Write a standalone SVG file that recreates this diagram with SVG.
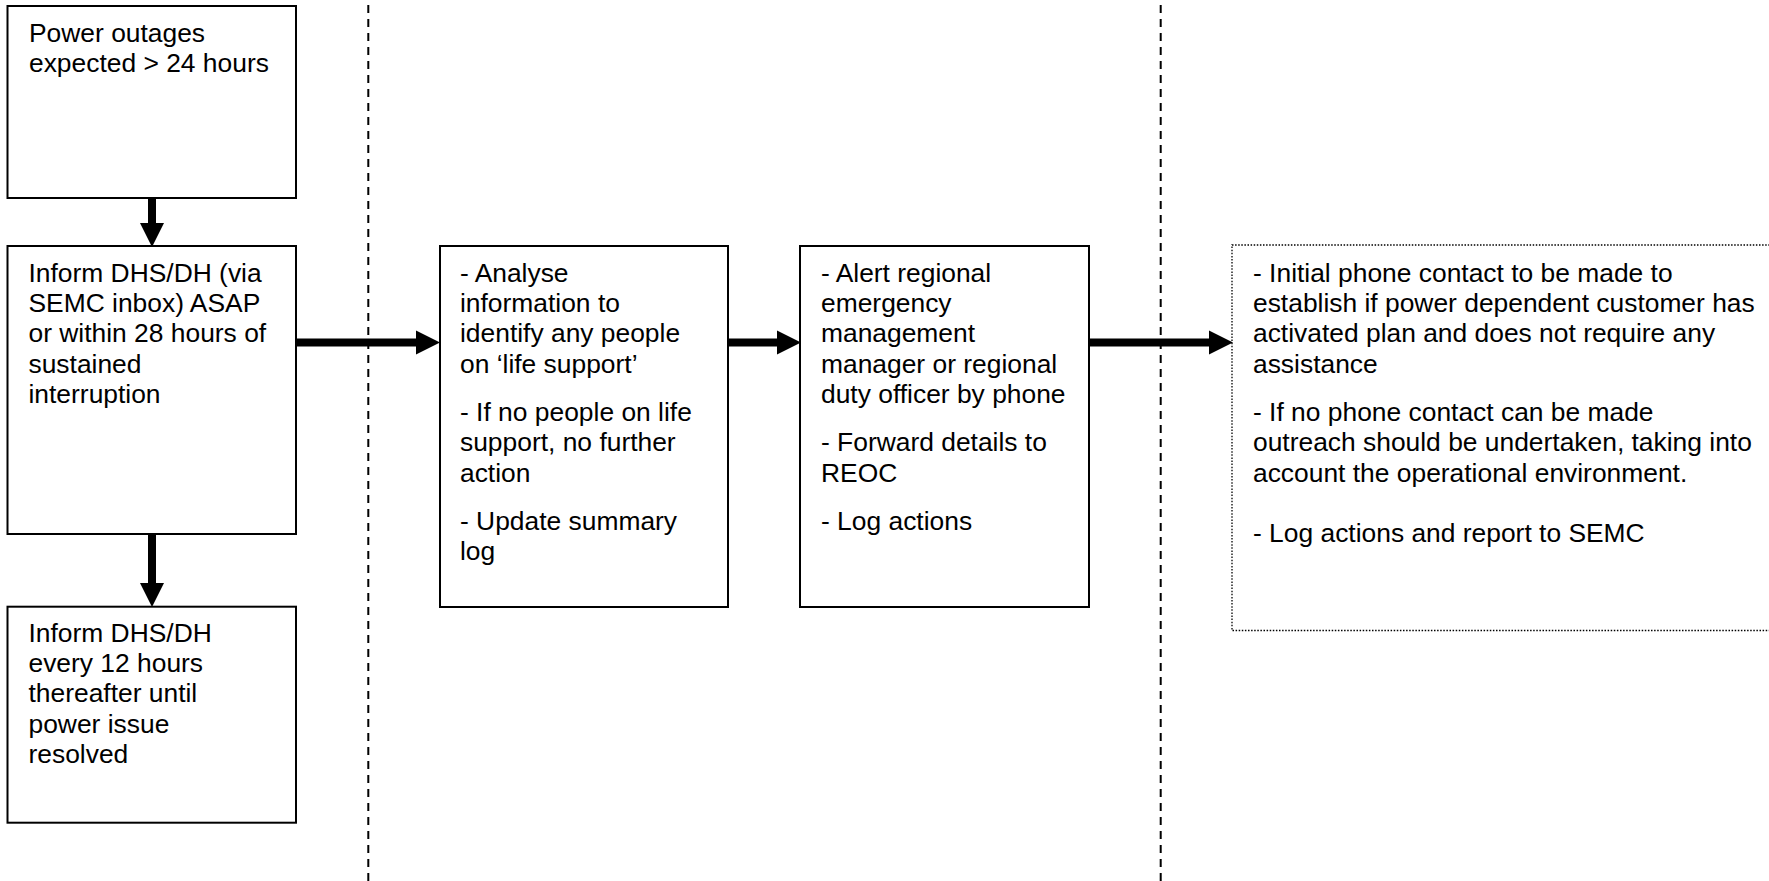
<svg xmlns="http://www.w3.org/2000/svg" width="1769" height="881" viewBox="0 0 1769 881">
<style>
.box{fill:#fff;stroke:#000;stroke-width:2}
.dot{fill:#fff;stroke:#000;stroke-width:1.3;stroke-dasharray:1.5 1.6}
.t{font-family:"Liberation Sans",Arial,sans-serif;font-size:26.4px;fill:#000}
.sep{stroke:#000;stroke-width:2;stroke-dasharray:8 6}
.arr{stroke:#000;stroke-width:8;fill:none}
</style>
<defs>
<marker id="ah" markerUnits="userSpaceOnUse" markerWidth="24" markerHeight="24" refX="0" refY="12" orient="auto" overflow="visible">
<path d="M0,0 L24,12 L0,24 Z" fill="#000"/>
</marker>
</defs>
<rect width="1769" height="881" fill="#fff"/>
<g id="separators">
<line class="sep" x1="368.3" y1="5" x2="368.3" y2="881"/>
<line class="sep" x1="1160.7" y1="5" x2="1160.7" y2="881"/>
</g>
<g id="n1">
<rect class="box" x="7.5" y="6" width="288.5" height="192"/>
<text class="t"><tspan x="29" y="42">Power outages</tspan><tspan x="29" y="72.3">expected &gt; 24 hours</tspan></text>
</g>
<g id="n2">
<rect class="box" x="7.5" y="246" width="288.5" height="288"/>
<text class="t"><tspan x="28.5" y="281.7">Inform DHS/DH (via</tspan><tspan x="28.5" y="312">SEMC inbox) ASAP</tspan><tspan x="28.5" y="342.3">or within 28 hours of</tspan><tspan x="28.5" y="372.6">sustained</tspan><tspan x="28.5" y="402.9">interruption</tspan></text>
</g>
<g id="n6">
<rect class="box" x="7.5" y="606.7" width="288.5" height="216"/>
<text class="t"><tspan x="28.5" y="641.7">Inform DHS/DH</tspan><tspan x="28.5" y="672">every 12 hours</tspan><tspan x="28.5" y="702.3">thereafter until</tspan><tspan x="28.5" y="732.6">power issue</tspan><tspan x="28.5" y="762.9">resolved</tspan></text>
</g>
<g id="n3">
<rect class="box" x="440" y="246" width="288" height="361"/>
<text class="t"><tspan x="460" y="281.7">- Analyse</tspan><tspan x="460" y="312">information to</tspan><tspan x="460" y="342.3">identify any people</tspan><tspan x="460" y="372.6">on ‘life support’</tspan><tspan x="460" y="420.9">- If no people on life</tspan><tspan x="460" y="451.2">support, no further</tspan><tspan x="460" y="481.5">action</tspan><tspan x="460" y="529.8">- Update summary</tspan><tspan x="460" y="560.1">log</tspan></text>
</g>
<g id="n4">
<rect class="box" x="800" y="246" width="289" height="361"/>
<text class="t"><tspan x="821" y="281.7">- Alert regional</tspan><tspan x="821" y="312">emergency</tspan><tspan x="821" y="342.3">management</tspan><tspan x="821" y="372.6">manager or regional</tspan><tspan x="821" y="402.9">duty officer by phone</tspan><tspan x="821" y="451.2">- Forward details to</tspan><tspan x="821" y="481.5">REOC</tspan><tspan x="821" y="529.8">- Log actions</tspan></text>
</g>
<g id="n5">
<rect class="dot" x="1232" y="245" width="560" height="385.5"/>
<text class="t"><tspan x="1253" y="281.7">- Initial phone contact to be made to</tspan><tspan x="1253" y="312">establish if power dependent customer has</tspan><tspan x="1253" y="342.3">activated plan and does not require any</tspan><tspan x="1253" y="372.6">assistance</tspan><tspan x="1253" y="420.9">- If no phone contact can be made</tspan><tspan x="1253" y="451.2">outreach should be undertaken, taking into</tspan><tspan x="1253" y="481.5">account the operational environment.</tspan><tspan x="1253" y="541.9">- Log actions and report to SEMC</tspan></text>
</g>
<g id="connectors">
<line class="arr" x1="152" y1="198" x2="152" y2="223" marker-end="url(#ah)"/>
<line class="arr" x1="152" y1="534" x2="152" y2="583" marker-end="url(#ah)"/>
<line class="arr" x1="296" y1="342.5" x2="416" y2="342.5" marker-end="url(#ah)"/>
<line class="arr" x1="728" y1="342.5" x2="777" y2="342.5" marker-end="url(#ah)"/>
<line class="arr" x1="1089" y1="342.5" x2="1209" y2="342.5" marker-end="url(#ah)"/>
</g>
</svg>
